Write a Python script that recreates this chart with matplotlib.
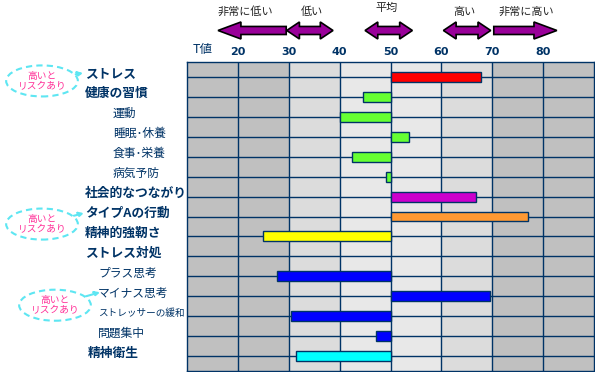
import numpy as np
import matplotlib
matplotlib.use('Agg')
import matplotlib.pyplot as plt
from matplotlib import transforms
from matplotlib.patches import Polygon

plt.rcParams['font.family'] = ['Noto Sans CJK JP', 'DejaVu Sans']

# データ
labels = ['ストレス', '健康の習慣', '運動', '睡眠･休養', '食事･栄養', '病気予防',
          '社会的なつながり', 'タイプAの行動', '精神的強靭さ', 'ストレス対処',
          'プラス思考', 'マイナス思考', 'ストレッサーの緩和', '問題集中', '精神衛生']
t_scores = [67.7, 44.5, 40.0, 53.7, 42.5, 49.2,
            66.9, 77.1, 25.0, np.nan,
            27.7, 69.6, 30.5, 47.2, 31.5]
bar_colors = ['#ff0000', '#66ff33', '#66ff33', '#66ff33', '#66ff33', '#66ff33',
              '#cc00cc', '#ff9933', '#ffff00', 'none',
              '#0000ff', '#0000ff', '#0000ff', '#0000ff', '#00ffff']
t_ticks = [20, 30, 40, 50, 60, 70, 80]

# 上の矢印 (範囲)
zone_names = ['非常に低い', '低い', '平均', '高い', '非常に高い']
zone_from = [16.1, 29.6, 45.0, 60.4, 70.3]
zone_to = [29.5, 38.7, 54.3, 69.7, 82.7]
zone_heads = ['left', 'both', 'both', 'both', 'right']
zone_label_x = [21.4, 34.6, 49.3, 64.6, 76.8]

# 吹き出し「高いとリスクあり」を付ける行
risk_rows = [0, 7, 11]

NAVY = '#003366'
PURPLE = '#990099'
CYAN = '#5ee6f2'
PINK = '#ff3399'

W, H = 595, 372
fig = plt.figure(figsize=(W / 100, H / 100), dpi=100)
ax = fig.add_axes([187 / W, 1 / H, 407 / W, 309 / H])

n = len(labels)
y = np.arange(n)

# 背景の帯
for lo, hi, c in [(10, 30, '#c0c0c0'), (30, 40, '#dcdcdc'), (40, 60, '#e8e8e8'),
                  (60, 70, '#dcdcdc'), (70, 90, '#c0c0c0')]:
    ax.axvspan(lo, hi, color=c, lw=0, zorder=0)

# バー (50 からの差)
vals = np.array(t_scores)
ok = ~np.isnan(vals)
ax.barh(y[ok], vals[ok] - 50, left=50, height=0.5,
        color=[c for c, m in zip(bar_colors, ok) if m],
        edgecolor=NAVY, linewidth=1.0, zorder=3)

ax.set_xlim(10, 90)
ax.set_ylim(n - 1 + 0.75, -0.75)
ax.set_xticks(t_ticks)
ax.set_yticks(y)
ax.set_yticklabels([])
ax.set_axisbelow(True)
ax.grid(True, color=NAVY, linewidth=1.0)
ax.xaxis.tick_top()
ax.tick_params(axis='x', length=0, pad=3.5, labelsize=8, labelcolor=NAVY)
ax.tick_params(axis='y', length=0)
for lab in ax.get_xticklabels():
    lab.set_fontweight('bold')
    lab.set_family('DejaVu Sans')
for s in ax.spines.values():
    s.set_color(NAVY)
    s.set_linewidth(1.0)

ax.text(11.2, 1.039, 'T値', transform=ax.get_xaxis_transform(),
        ha='left', va='center', fontsize=9, color=NAVY)

# 行ラベル
row_tr = transforms.blended_transform_factory(fig.transFigure, ax.transData)
bold_rows = [0, 1, 6, 7, 8, 9, 14]
for i, lab in enumerate(labels):
    if i in bold_rows:
        xpx, fs, fw = (88 if i == 14 else 85), 9.2, 'bold'
    elif i <= 5:
        xpx, fs, fw = 113, 8.5, 'normal'
    else:
        xpx, fs, fw = 98, 8.5, 'normal'
    if lab == 'ストレッサーの緩和':
        fs = 6.9
    ax.text(xpx / W, i - 0.15, lab, transform=row_tr, ha='left', va='center',
            fontsize=fs, fontweight=fw, color=NAVY)

# 吹き出し
bubble_pos = {0: (42, 0.2, 83, -0.2), 7: (42, 0.38, 84, -0.17), 11: (55, 0.45, 100, -0.2)}
for r in risk_rows:
    cx, dy, tx, dty = bubble_pos[r]
    ax.annotate('高いと\nリスクあり', xy=(tx / W, r + dty), xycoords=row_tr,
                xytext=(cx / W, r + dy), textcoords=row_tr,
                ha='center', va='center', fontsize=7, color=PINK,
                linespacing=1.0, annotation_clip=False,
                bbox=dict(boxstyle='ellipse,pad=0.1', fc='white', ec=CYAN,
                          ls=(0, (3, 2)), lw=1.5),
                arrowprops=dict(arrowstyle='-|>', color=CYAN, ls='--', lw=1.5,
                                shrinkA=0, shrinkB=0, mutation_scale=7))

# 上部の矢印
top_tr = transforms.blended_transform_factory(ax.transData, ax.transAxes)
yc, bh, hh = 1.102, 0.013, 0.0275


def block_arrow(x0, x1, heads):
    hl = 4.5 if heads != 'both' else 2.5
    left = heads in ('left', 'both')
    right = heads in ('right', 'both')
    pts = []
    if left:
        pts += [(x0, yc), (x0 + hl, yc + hh), (x0 + hl, yc + bh)]
    else:
        pts += [(x0, yc + bh)]
    if right:
        pts += [(x1 - hl, yc + bh), (x1 - hl, yc + hh), (x1, yc),
                (x1 - hl, yc - hh), (x1 - hl, yc - bh)]
    else:
        pts += [(x1, yc + bh), (x1, yc - bh)]
    if left:
        pts += [(x0 + hl, yc - bh), (x0 + hl, yc - hh)]
    else:
        pts += [(x0, yc - bh)]
    return Polygon(pts, closed=True, transform=top_tr, fc=PURPLE, ec='black',
                   lw=1.2, clip_on=False, zorder=5)


for name, x0, x1, hd, lx in zip(zone_names, zone_from, zone_to, zone_heads, zone_label_x):
    ax.add_patch(block_arrow(x0, x1, hd))
    ly = 1.175 if name == '平均' else 1.163
    ax.text(lx, ly, name, transform=top_tr, ha='center', va='center',
            fontsize=8, color='#222222')

fig.savefig('out.png', dpi=100)
